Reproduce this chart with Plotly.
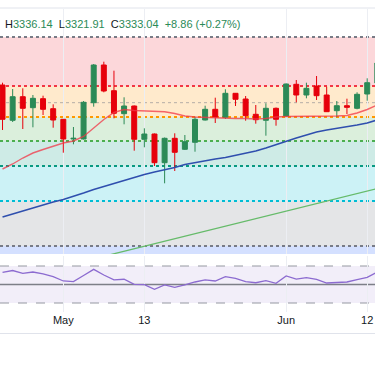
import plotly.graph_objects as go

dates = ["2025-04-23", "2025-04-24", "2025-04-25", "2025-04-28", "2025-04-29", "2025-04-30",
         "2025-05-01", "2025-05-02", "2025-05-05", "2025-05-06", "2025-05-07", "2025-05-08",
         "2025-05-09", "2025-05-12", "2025-05-13", "2025-05-14", "2025-05-15", "2025-05-16",
         "2025-05-19", "2025-05-20", "2025-05-21", "2025-05-22", "2025-05-23", "2025-05-26",
         "2025-05-27", "2025-05-28", "2025-05-29", "2025-05-30", "2025-06-02", "2025-06-03",
         "2025-06-04", "2025-06-05", "2025-06-06", "2025-06-09", "2025-06-10", "2025-06-11",
         "2025-06-12", "2025-06-13"]

opens = [3379.0, 3287.2, 3348.6, 3320.0, 3343.4, 3317.4, 3289.8, 3238.6, 3238.6, 3333.0,
         3431.0, 3364.2, 3304.4, 3324.4, 3237.8, 3251.6, 3177.0, 3240.4, 3211.8, 3230.0,
         3288.0, 3315.8, 3295.0, 3357.4, 3342.6, 3302.8, 3287.2, 3318.4, 3298.4, 3380.8,
         3353.0, 3376.4, 3353.0, 3312.2, 3325.2, 3318.4, 3355.6, 3384.2]
highs = [3385.0, 3368.6, 3370.4, 3353.0, 3351.2, 3328.8, 3290.6, 3269.8, 3337.4, 3433.6,
         3439.6, 3416.2, 3347.0, 3325.7, 3266.4, 3252.9, 3242.5, 3253.4, 3249.0, 3296.6,
         3325.2, 3346.0, 3367.8, 3358.2, 3350.4, 3327.0, 3331.4, 3320.5, 3382.9, 3392.0,
         3385.0, 3402.4, 3374.6, 3337.4, 3343.4, 3360.0, 3396.4, 3449.2]
lows = [3262.0, 3282.8, 3264.6, 3269.0, 3301.0, 3268.0, 3203.0, 3224.8, 3237.3, 3322.6,
        3360.0, 3292.4, 3276.8, 3208.2, 3217.0, 3168.4, 3123.4, 3155.4, 3210.0, 3205.6,
        3286.7, 3280.2, 3290.6, 3324.4, 3286.2, 3278.4, 3247.2, 3273.2, 3297.1, 3334.0,
        3344.4, 3340.0, 3308.8, 3295.0, 3303.6, 3315.8, 3338.2, 3381.6]
closes = [3289.8, 3348.6, 3318.4, 3344.4, 3315.8, 3288.0, 3238.6, 3240.4, 3334.0, 3431.0,
          3363.4, 3305.4, 3324.4, 3237.8, 3251.6, 3177.0, 3240.4, 3204.0, 3231.6, 3289.8,
          3315.8, 3295.8, 3357.4, 3341.8, 3299.2, 3288.8, 3318.4, 3289.8, 3381.6, 3353.0,
          3370.4, 3351.2, 3309.6, 3325.2, 3321.0, 3354.8, 3385.0, 3436.2]

ma_fast = [3160.6, 3173.6, 3189.2, 3202.2, 3211.3, 3220.4, 3228.2, 3233.4, 3245.1, 3267.2,
           3289.3, 3307.5, 3315.3, 3312.7, 3311.4, 3310.6, 3309.6, 3304.9, 3298.4, 3295.8,
           3294.5, 3293.2, 3293.2, 3291.9, 3291.9, 3290.6, 3291.9, 3295.8, 3297.1, 3297.1,
           3298.4, 3298.4, 3298.4, 3298.4, 3299.7, 3306.2, 3315.3, 3327.0]
ma_mid = [3035.8, 3043.6, 3052.7, 3060.5, 3067.0, 3074.8, 3081.3, 3089.1, 3098.2, 3107.3,
          3115.1, 3124.2, 3132.0, 3138.5, 3146.3, 3152.8, 3158.0, 3164.5, 3172.3, 3177.5,
          3181.4, 3186.6, 3190.5, 3195.7, 3200.9, 3207.4, 3215.2, 3224.3, 3233.4, 3241.2,
          3249.0, 3256.8, 3262.0, 3265.9, 3269.8, 3275.0, 3280.2, 3288.0]
ma_slow = [2868.4, 2875.0, 2881.4, 2888.1, 2894.5, 2901.1, 2907.6, 2914.0, 2920.6, 2927.1,
           2933.6, 2940.1, 2946.7, 2953.2, 2959.8, 2966.4, 2972.8, 2979.4, 2985.9, 2992.3,
           2998.9, 3005.4, 3012.0, 3018.5, 3025.0, 3031.6, 3038.0, 3044.6, 3051.1, 3057.5,
           3064.1, 3070.6, 3077.2, 3083.7, 3090.3, 3096.9, 3103.3, 3109.9]

rsi = [63.0, 65.1, 62.1, 63.5, 61.6, 58.4, 53.8, 53.2, 59.7, 66.4,
       60.3, 55.1, 55.7, 50.2, 49.8, 44.8, 49.5, 47.0, 49.5, 52.7,
       54.9, 53.8, 58.4, 56.7, 53.0, 51.9, 54.1, 51.3, 59.2, 55.9,
       57.4, 55.6, 51.6, 52.4, 52.7, 55.2, 57.8, 63.5]

fib_prices = [3503.8, 3376.4, 3295.8, 3233.4, 3168.4, 3077.4, 2960.4]
fib_line_colors = ["#787b86", "#f23645", "#ff9800", "#4caf50", "#089981", "#00bcd4", "#787b86"]
fib_fill_colors = ["rgba(242,54,69,0.2)", "rgba(255,152,0,0.2)", "rgba(76,175,80,0.2)",
                   "rgba(8,153,129,0.2)", "rgba(0,188,212,0.2)", "rgba(120,123,134,0.2)",
                   "rgba(41,98,255,0.2)"]
fib_extension_price = 2620.0
last_price_line = 3333.04

tick_dates = ["2025-05-01", "2025-05-13", "2025-06-02", "2025-06-12"]
tick_text = ["May", "13", "Jun", "12"]

header_vals = {"H": "3336.14", "L": "3321.91", "C": "3333.04"}
header_change = "+8.86 (+0.27%)"

UP = "#2b8a57"
DOWN = "#e6000b"
W, H = 375, 366

fig = go.Figure()
fig.add_trace(go.Candlestick(
    x=dates, open=opens, high=highs, low=lows, close=closes,
    increasing=dict(fillcolor=UP, line=dict(color=UP, width=1)),
    decreasing=dict(fillcolor=DOWN, line=dict(color=DOWN, width=1)),
    xaxis="x", yaxis="y", showlegend=False, hoverinfo="skip"))
fig.add_trace(go.Scatter(x=dates, y=ma_slow, mode="lines",
                         line=dict(color="#66bb6a", width=1.3), showlegend=False))
fig.add_trace(go.Scatter(x=dates, y=ma_mid, mode="lines",
                         line=dict(color="#2f4fae", width=1.6), showlegend=False))
fig.add_trace(go.Scatter(x=dates, y=ma_fast, mode="lines",
                         line=dict(color="rgba(242,54,69,0.75)", width=1.4), showlegend=False))
fig.add_trace(go.Scatter(x=dates, y=rsi, mode="lines", xaxis="x2", yaxis="y2",
                         line=dict(color="#8c6bd0", width=1.3), showlegend=False))

shapes = []
bounds = fib_prices + [fib_extension_price]
for i, col in enumerate(fib_fill_colors):
    shapes.append(dict(type="rect", xref="x domain", yref="y", x0=0, x1=1,
                       y0=bounds[i + 1], y1=bounds[i], fillcolor=col,
                       line=dict(width=0), layer="below"))
for p, col in zip(fib_prices, fib_line_colors):
    shapes.append(dict(type="line", xref="x domain", yref="y", x0=0, x1=1, y0=p, y1=p,
                       line=dict(color=col, width=2, dash="dot"), layer="below"))
shapes.append(dict(type="line", xref="x domain", yref="y", x0=0, x1=1,
                   y0=last_price_line, y1=last_price_line,
                   line=dict(color="rgba(120,123,134,0.55)", width=1, dash="dot"), layer="below"))
# RSI band and levels
shapes.append(dict(type="rect", xref="x2 domain", yref="y2", x0=0, x1=1, y0=30, y1=70,
                   fillcolor="rgba(126,87,194,0.1)", line=dict(width=0), layer="below"))
for lv in (70, 30):
    shapes.append(dict(type="line", xref="x2 domain", yref="y2", x0=0, x1=1, y0=lv, y1=lv,
                       line=dict(color="#9598a1", width=1, dash="dash"), layer="below"))
shapes.append(dict(type="line", xref="x2 domain", yref="y2", x0=0, x1=1, y0=50, y1=50,
                   line=dict(color="#7d7f88", width=1.6), layer="below"))
# frame lines
for py in (8, 333.5):
    shapes.append(dict(type="line", xref="paper", yref="paper", x0=0, x1=1,
                       y0=1 - py / H, y1=1 - py / H, line=dict(color="#e0e3eb", width=1)))

header = ("H<span style='color:%s'>%s</span>  L<span style='color:%s'>%s</span>  "
          "C<span style='color:%s'>%s</span>  <span style='color:%s'>%s</span>") % (
    UP, header_vals["H"], UP, header_vals["L"], UP, header_vals["C"], UP, header_change)

fig.update_layout(
    width=W, height=H, margin=dict(l=0, r=0, t=0, b=0),
    paper_bgcolor="white", plot_bgcolor="white",
    font=dict(family="Liberation Sans, Arial, sans-serif", size=11, color="#131722"),
    showlegend=False,
    shapes=shapes,
    xaxis=dict(type="category", domain=[0, 1], anchor="y", range=[-0.25, 36.77],
               tickvals=tick_dates, showticklabels=False, showgrid=True,
               gridcolor="#eceef3", gridwidth=1, zeroline=False, showline=False,
               rangeslider=dict(visible=False), fixedrange=True),
    yaxis=dict(domain=[1 - 254 / H, 1 - 9 / H], range=[3600 - 2.6 * 254, 3600 - 2.6 * 9],
               visible=False, fixedrange=True),
    xaxis2=dict(type="category", domain=[0, 1], anchor="y2", matches="x",
                tickvals=tick_dates, ticktext=tick_text, showgrid=True,
                gridcolor="#eceef3", gridwidth=1, zeroline=False, showline=False,
                ticks="", tickfont=dict(size=11, color="#131722"), fixedrange=True),
    yaxis2=dict(domain=[1 - 312 / H, 1 - 256 / H], range=[20.27, 80.81],
                visible=False, fixedrange=True),
    annotations=[dict(text=header, xref="paper", yref="paper", x=3 / W, y=1 - 24 / H,
                      xanchor="left", yanchor="middle", showarrow=False,
                      font=dict(size=11, color="#131722"))],
)

fig.write_html("out.html", config={"displayModeBar": False},
               post_script="document.body.style.margin='0';document.body.style.overflow='hidden';")
